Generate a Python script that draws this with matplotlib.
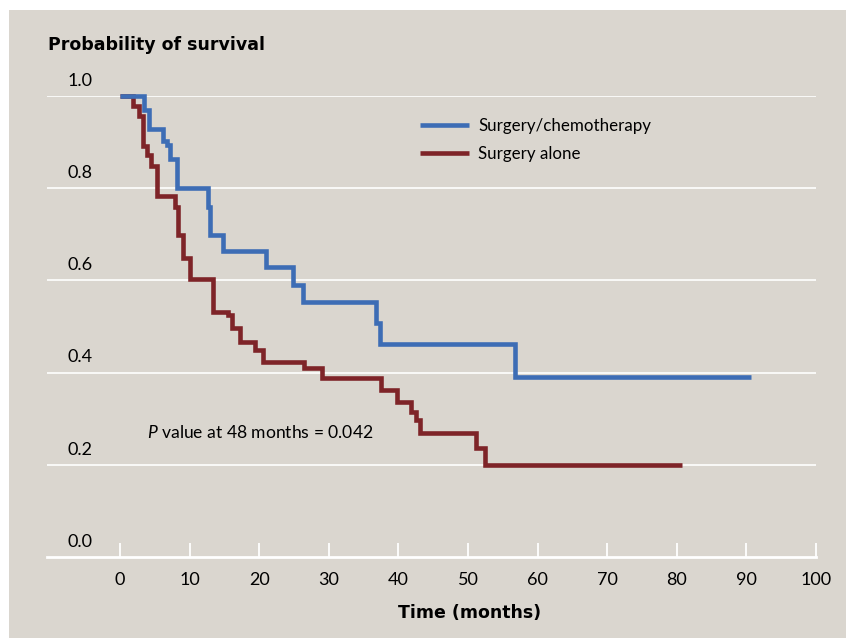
import matplotlib
matplotlib.use("Agg")
import matplotlib.pyplot as plt
from matplotlib.patches import Rectangle

plt.rcParams["font.family"] = ["Lato", "DejaVu Sans"]
plt.rcParams["mathtext.fontset"] = "custom"
plt.rcParams["mathtext.rm"] = "Lato"
plt.rcParams["mathtext.it"] = "Lato:italic"

# Kaplan-Meier steps (time in months, survival after the drop)
chemo_t = [0, 3.5, 4.1, 6.1, 6.7, 7.2, 8.2, 12.7, 12.9, 14.8, 20.9, 24.8, 26.3, 36.8, 37.4, 56.8, 90.6]
chemo_s = [1.0, 0.970, 0.928, 0.902, 0.894, 0.864, 0.800, 0.760, 0.698, 0.663, 0.630, 0.589, 0.554,
           0.508, 0.462, 0.391, 0.391]

alone_t = [0, 1.9, 2.7, 3.35, 3.8, 4.4, 5.3, 7.9, 8.3, 9.0, 10.0, 13.4, 15.5, 16.1, 17.2, 19.4, 20.6,
           26.4, 29.0, 37.5, 39.8, 41.8, 42.5, 43.1, 51.1, 52.4, 80.7]
alone_s = [1.0, 0.978, 0.957, 0.891, 0.873, 0.848, 0.783, 0.759, 0.698, 0.648, 0.603, 0.532, 0.525,
           0.496, 0.467, 0.449, 0.422, 0.409, 0.388, 0.362, 0.337, 0.315, 0.297, 0.270, 0.236, 0.200,
           0.200]

yticks = [0.0, 0.2, 0.4, 0.6, 0.8, 1.0]
xticks = list(range(0, 101, 10))

bg = "#dad6cf"
blue = "#3d6db5"
red = "#7e2428"

fig = plt.figure(figsize=(8.46, 6.38), dpi=100, facecolor="white")
fig.patches.append(Rectangle((9 / 846, 0), 1, 1 - 10 / 638, transform=fig.transFigure,
                             facecolor=bg, edgecolor="none", zorder=-5))

ax = fig.add_axes([47 / 846, (638 - 557) / 638, (816 - 47) / 846, (557 - 96) / 638])
ax.set_zorder(2)
ax.set_facecolor("none")
ax.set_xlim(-10.5, 100)
ax.set_ylim(0, 1.0)

for v in yticks[1:]:
    ax.axhline(v, color="white", lw=1.2, zorder=1)

ax.step(chemo_t, chemo_s, where="post", color=blue, lw=3.3, label="Surgery/chemotherapy",
        zorder=4, clip_on=False, solid_joinstyle="miter", solid_capstyle="butt")
ax.step(alone_t, alone_s, where="post", color=red, lw=3.3, label="Surgery alone",
        zorder=3, clip_on=False, solid_joinstyle="miter", solid_capstyle="butt")

for s in ["top", "left", "right"]:
    ax.spines[s].set_visible(False)
ax.spines["bottom"].set_color("white")
ax.spines["bottom"].set_linewidth(2)

ax.set_xticks(xticks)
ax.set_xticklabels([str(x) for x in xticks], fontsize=13)
ax.tick_params(axis="x", direction="in", length=10, width=1.3, color="white", pad=11)
ax.set_yticks([])

for v in yticks:
    ax.annotate(f"{v:.1f}", xy=(-7.6, v), xytext=(0, 11), textcoords="offset points",
                ha="left", va="center", fontsize=13)

ax.text(3.9, 0.269, r"$\mathit{P}$ value at 48 months = 0.042", fontsize=12.6, va="center", ha="left")

leg = ax.legend(loc="upper left", bbox_to_anchor=(0.465, 0.985), frameon=False, fontsize=12.2,
                handlelength=2.9, handletextpad=0.55, labelspacing=0.72)

fig.text(48 / 846, 1 - 45 / 638, "Probability of survival", fontsize=12.5, fontweight="bold",
         ha="left", va="center", family=["DejaVu Sans"])
fig.text(470 / 846, 1 - 613 / 638, "Time (months)", fontsize=12.5, fontweight="bold",
         ha="center", va="center", family=["DejaVu Sans"])

fig.savefig("out.png", dpi=100, facecolor=fig.get_facecolor())
